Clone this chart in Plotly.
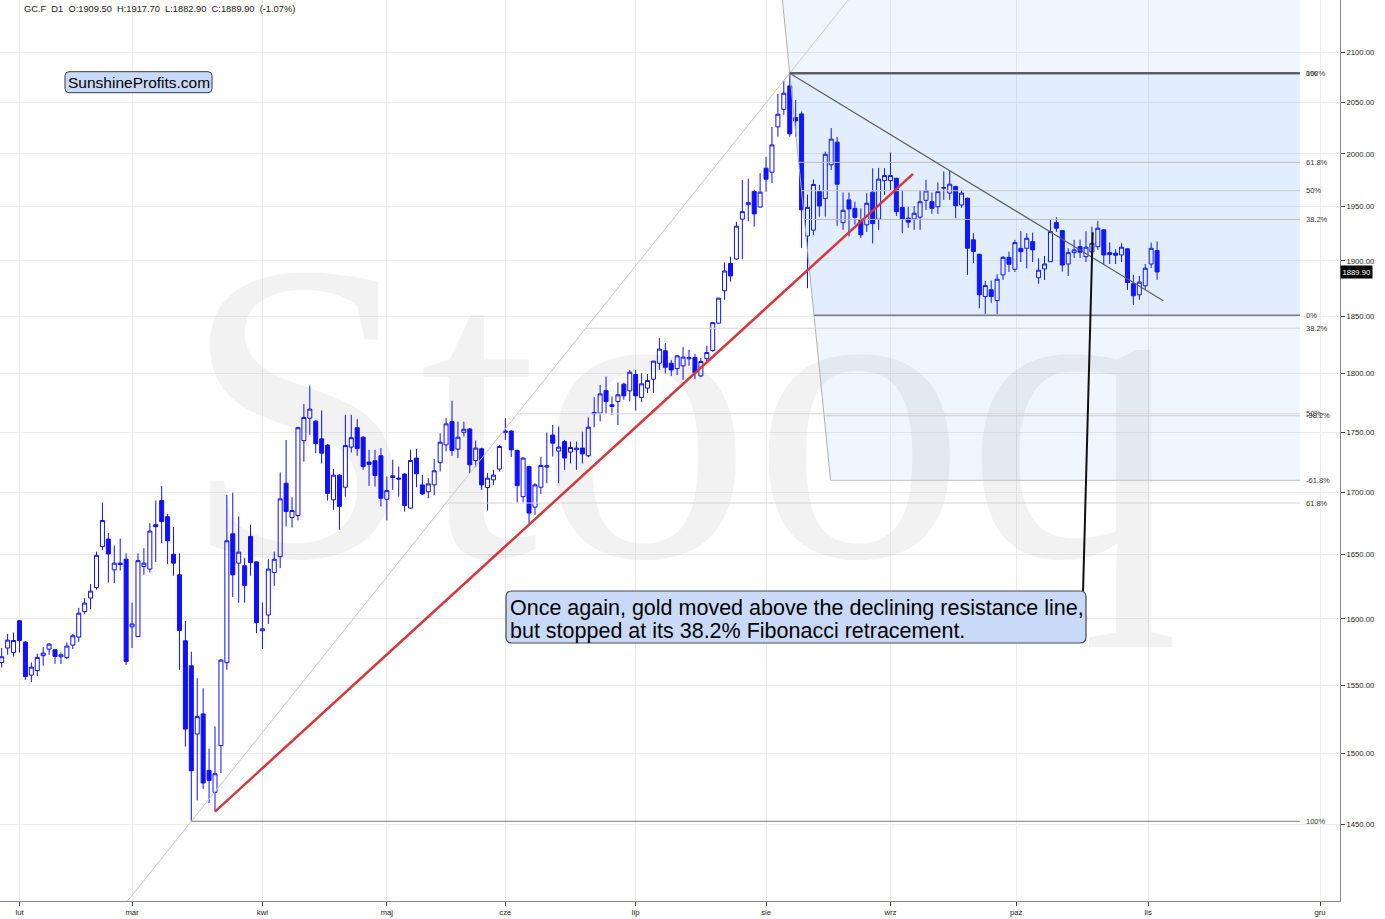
import numpy as np
import plotly.graph_objects as go

# ---------------- data (GC.F daily, 2020) ----------------
opens = [1566.9,1577.8,1574.4,1598.6,1582.3,1557.4,1560.8,1572.0,1577.0,1576.5,
         1571.2,1570.7,1580.0,1586.1,1605.6,1616.1,1624.3,1656.5,1662.5,1638.1,
         1643.4,1646.5,1593.9,1586.5,1640.7,1638.7,1674.0,1693.5,1680.4,1650.4,
         1634.2,1583.3,1564.4,1514.0,1528.7,1487.8,1472.2,1505.6,1566.7,1666.7,
         1643.4,1641.3,1664.6,1644.4,1590.9,1603.0,1636.0,1648.5,1707.7,1679.8,
         1681.4,1743.0,1761.8,1759.3,1744.4,1739.2,1694.1,1714.3,1704.4,1737.5,
         1753.8,1745.8,1725.1,1726.2,1730.3,1694.6,1712.4,1711.9,1715.2,1687.4,
         1728.4,1706.3,1700.7,1706.3,1724.6,1739.4,1758.9,1735.8,1749.9,1752.7,
         1726.4,1736.1,1704.1,1710.4,1719.3,1749.9,1751.0,1734.7,1696.7,1721.4,
         1688.2,1704.4,1720.9,1747.6,1734.2,1742.1,1733.4,1735.3,1736.7,1730.3,
         1765.5,1766.1,1785.3,1773.2,1776.0,1790.8,1785.1,1799.1,1779.4,1787.4,
         1795.1,1808.9,1819.7,1808.9,1804.2,1806.6,1812.7,1813.9,1797.9,1812.9,
         1820.0,1844.0,1872.9,1897.7,1901.7,1938.4,1951.9,1964.2,1949.7,1986.4,
         1982.6,2026.2,2043.4,2066.4,2035.2,2038.8,1922.8,1928.2,1964.2,1957.6,
         1989.6,2011.4,1935.2,1956.4,1948.5,1938.0,1933.1,1963.7,1938.4,1974.6,
         1974.6,1976.9,1949.4,1939.3,1938.6,1940.2,1956.0,1954.7,1950.0,1967.5,
         1962.8,1969.0,1951.6,1958.0,1919.3,1906.0,1867.7,1873.8,1864.1,1887.2,
         1903.2,1892.3,1911.5,1911.5,1917.6,1884.7,1892.6,1899.2,1935.2,1927.8,
         1897.1,1907.5,1913.0,1903.8,1908.2,1913.0,1928.5,1907.5,1907.0,1905.4,
         1911.0,1879.2,1869.3,1877.4,1897.1,1909.5]
highs = [1577.8,1588.6,1589.6,1599.2,1583.0,1566.9,1573.5,1578.5,1581.6,1576.8,
         1574.4,1582.0,1588.6,1608.5,1616.1,1627.0,1652.5,1691.9,1667.3,1657.3,
         1662.9,1651.2,1612.6,1651.2,1655.2,1675.3,1693.5,1705.5,1682.6,1672.1,
         1651.2,1598.4,1575.0,1555.1,1547.6,1503.4,1519.5,1569.5,1698.1,1699.9,
         1680.6,1647.7,1674.0,1645.0,1612.6,1646.5,1652.5,1716.5,1743.5,1696.2,
         1754.5,1773.8,1789.6,1760.0,1768.3,1740.0,1719.3,1715.0,1764.7,1764.7,
         1761.0,1746.5,1735.3,1735.3,1736.7,1713.2,1727.0,1721.4,1716.0,1735.3,
         1736.1,1714.6,1711.8,1727.6,1749.1,1761.9,1776.6,1758.9,1758.9,1753.5,
         1743.0,1737.0,1716.0,1718.7,1739.4,1761.9,1751.5,1735.5,1729.2,1722.0,
         1707.7,1729.2,1749.6,1756.2,1754.7,1743.5,1742.1,1742.1,1750.4,1762.4,
         1779.7,1790.2,1797.3,1780.2,1792.2,1792.2,1803.1,1803.1,1800.2,1799.6,
         1811.0,1830.8,1826.4,1811.8,1816.2,1823.2,1820.6,1817.1,1813.3,1824.1,
         1845.1,1866.6,1898.6,1903.8,1935.9,1975.3,1976.3,1965.8,1981.7,1997.4,
         2026.0,2058.5,2071.7,2079.1,2052.5,2041.1,1961.4,1975.6,1970.6,2002.2,
         2025.0,2016.5,1963.3,1963.3,1954.7,1948.5,1962.7,1986.4,1986.7,1986.4,
         2001.3,1977.2,1965.8,1950.0,1950.6,1965.8,1975.3,1963.3,1972.8,1983.3,
         1983.9,1969.6,1964.9,1958.5,1925.4,1906.3,1881.8,1882.1,1887.8,1904.4,
         1908.4,1919.2,1927.2,1925.4,1925.9,1902.3,1904.4,1938.4,1940.2,1928.3,
         1911.5,1919.3,1919.3,1927.2,1931.5,1936.8,1929.0,1916.8,1910.6,1916.1,
         1911.5,1887.2,1886.3,1897.1,1916.7,1917.7]
lows = [1563.1,1572.7,1571.4,1574.4,1553.8,1552.3,1556.8,1564.4,1572.7,1565.9,
        1565.7,1569.5,1577.0,1582.5,1603.6,1607.5,1622.5,1653.9,1628.2,1627.8,
        1637.6,1565.1,1577.8,1586.0,1634.2,1636.0,1644.4,1659.2,1642.6,1633.5,
        1561.4,1504.9,1451.9,1466.5,1474.6,1464.7,1458.7,1485.9,1561.4,1616.8,
        1612.4,1612.6,1633.5,1589.1,1577.0,1596.1,1625.6,1639.5,1672.6,1671.8,
        1677.4,1725.4,1747.7,1732.5,1723.9,1693.5,1686.0,1669.9,1696.7,1733.0,
        1730.3,1718.7,1705.5,1704.9,1688.7,1677.4,1702.2,1696.7,1684.6,1687.0,
        1704.4,1698.1,1695.4,1698.1,1717.3,1733.9,1730.3,1728.4,1746.3,1716.0,
        1720.9,1702.2,1685.4,1706.3,1717.3,1743.5,1729.2,1691.9,1691.9,1675.3,
        1682.0,1698.9,1707.7,1729.7,1707.7,1718.7,1723.9,1718.7,1723.9,1729.2,
        1754.2,1759.0,1765.5,1764.7,1756.1,1777.4,1776.0,1768.3,1775.6,1783.1,
        1783.4,1803.1,1800.2,1797.9,1798.7,1794.5,1806.6,1795.1,1796.8,1810.4,
        1818.8,1843.6,1864.8,1881.2,1901.0,1901.4,1936.5,1931.5,1949.5,1964.2,
        1972.2,2016.8,2037.9,2016.8,2016.8,1911.8,1875.3,1923.8,1940.8,1940.8,
        1984.8,1932.2,1928.5,1922.3,1933.4,1920.8,1926.6,1916.0,1928.5,1961.1,
        1965.8,1941.4,1925.4,1930.3,1928.5,1928.5,1947.0,1943.3,1943.3,1956.4,
        1956.4,1939.3,1949.0,1887.2,1898.0,1857.3,1852.2,1862.1,1852.2,1882.7,
        1889.9,1889.9,1898.9,1893.2,1898.9,1879.2,1882.7,1899.0,1926.6,1890.2,
        1886.3,1902.6,1902.6,1898.9,1902.6,1910.0,1897.1,1897.1,1897.1,1898.9,
        1873.7,1860.3,1864.8,1873.7,1893.5,1882.9]
closes = [1571.2,1583.8,1583.5,1583.5,1556.3,1563.4,1570.7,1574.0,1580.8,1571.4,
          1572.7,1579.3,1587.1,1604.4,1612.2,1621.5,1649.6,1677.4,1650.6,1643.4,
          1642.3,1567.6,1596.1,1645.4,1643.4,1668.9,1672.4,1676.6,1661.1,1643.4,
          1591.1,1517.6,1487.5,1526.7,1478.8,1480.7,1485.4,1568.7,1661.1,1634.2,
          1652.1,1625.9,1643.8,1597.1,1592.4,1638.7,1646.5,1694.9,1684.6,1685.4,
          1753.8,1762.4,1769.5,1740.5,1732.5,1699.4,1714.3,1688.7,1738.8,1745.4,
          1736.3,1721.4,1723.1,1714.0,1695.4,1701.6,1713.8,1711.1,1689.5,1726.4,
          1715.4,1698.9,1707.1,1717.9,1741.6,1757.0,1734.7,1745.8,1752.5,1722.8,
          1736.7,1706.3,1711.8,1714.3,1738.0,1751.0,1735.3,1705.7,1728.4,1683.4,
          1706.3,1722.3,1722.0,1740.8,1737.5,1728.4,1737.2,1736.7,1731.9,1754.2,
          1766.6,1782.5,1776.0,1771.8,1781.7,1780.8,1801.1,1780.8,1791.1,1793.9,
          1810.7,1821.2,1805.4,1803.1,1815.3,1814.2,1813.9,1800.7,1810.4,1818.2,
          1844.5,1866.3,1890.8,1886.3,1931.9,1945.4,1953.8,1943.3,1963.7,1976.0,
          2008.7,2038.5,2059.2,2019.4,2032.0,1947.1,1949.4,1970.9,1950.7,1999.7,
          2014.3,1971.2,1946.7,1947.9,1940.2,1923.9,1953.2,1934.3,1976.0,1979.4,
          1979.4,1945.4,1938.6,1935.6,1943.9,1954.7,1964.9,1948.5,1964.2,1968.0,
          1971.2,1950.9,1962.8,1911.5,1908.5,1869.3,1877.6,1867.7,1883.3,1903.2,
          1896.9,1916.7,1908.4,1920.7,1910.0,1891.5,1897.1,1926.9,1930.0,1896.2,
          1907.5,1910.0,1907.9,1912.5,1916.1,1930.0,1905.4,1905.7,1905.1,1912.5,
          1880.3,1868.4,1880.7,1893.3,1911.5,1889.9]
change_pct = -1.07

month_labels = ["lut", "mar", "kwi", "maj", "cze", "lip", "sie", "wrz", "paź", "lis", "gru"]
month_pos = [3, 22, 44, 65, 85, 107, 129, 150, 171.2, 193.5, 222.5]
price_ticks = [1450, 1500, 1550, 1600, 1650, 1700, 1750, 1800, 1850, 1900, 1950, 2000, 2050, 2100]

# drawing tools (bar index, price)
fib1_hi = (133, 2079.1)       # retracement drawn from the August top ...
fib1_lo = (137.1, 1851.0)     # ... to the September low
fib1_levels = [1.0, 0.618, 0.5, 0.382, 0.0, -0.382, -0.618]
fib1_text = ["100%", "61.8%", "50%", "38.2%", "0%", "-38.2%", "-61.8%"]
fib2_lo = (32, 1451.9)        # retracement drawn from the March low ...
fib2_hi = (133, 2079.1)       # ... to the August top
fib2_levels = [0.0, 0.382, 0.5, 0.618, 1.0]
fib2_text = ["0%", "38.2%", "50%", "61.8%", "100%"]
fib_right = 219.1
red_line = [(36, 1458.7), (153.8, 1981.0)]
resist_line = [(133, 2079.1), (196.05, 1864.0)]
pointer = [(184.13, 1926.2), (182.5, 1621.1)]
label_x = 220.0

# ---------------- geometry helpers ----------------
PLOT_W, PLOT_H = 1340, 901
X_RANGE = [-0.287, 225.87]
Y_RANGE = [np.log10(1397.4), np.log10(2153.4)]


def px(v):
    return v / PLOT_W


def py(v):
    return 1 - v / PLOT_H


def log_line_x(p, a, b):
    """x on the straight (log-space) line through a and b at price p"""
    return a[0] + (np.log(p) - np.log(a[1])) / (np.log(b[1]) - np.log(a[1])) * (b[0] - a[0])


def rounded_rect(x0, y0, x1, y1, r):
    rx, ry = r / PLOT_W, r / PLOT_H
    X0, X1 = px(x0), px(x1)
    Yt, Yb = py(y0), py(y1)
    return (f"M {X0+rx},{Yt} L {X1-rx},{Yt} Q {X1},{Yt} {X1},{Yt-ry} "
            f"L {X1},{Yb+ry} Q {X1},{Yb} {X1-rx},{Yb} L {X0+rx},{Yb} "
            f"Q {X0},{Yb} {X0},{Yb+ry} L {X0},{Yt-ry} Q {X0},{Yt} {X0+rx},{Yt} Z")


idx = np.arange(len(opens))
fig = go.Figure()

# ---------------- fib shading ----------------
f1 = {r: fib1_lo[1] + r * (fib1_hi[1] - fib1_lo[1]) for r in fib1_levels}
bands = [(2300.0, f1[1.0], "rgba(0,100,240,0.06)"),
         (f1[1.0], f1[0.0], "rgba(0,100,240,0.115)"),
         (f1[0.0], f1[-0.618], "rgba(0,100,240,0.06)")]
for ptop, pbot, col in bands:
    xs = [log_line_x(ptop, fib1_hi, fib1_lo), fib_right, fib_right, log_line_x(pbot, fib1_hi, fib1_lo)]
    fig.add_trace(go.Scatter(x=xs, y=[ptop, ptop, pbot, pbot], fill="toself", fillcolor=col,
                             mode="none", hoverinfo="skip", showlegend=False))

# ---------------- watermark ----------------
fig.add_trace(go.Scatter(x=[114.6], y=[1736.0], mode="text", text=["Stooq"],
                         textposition="middle center",
                         textfont=dict(family="Liberation Serif, DejaVu Serif, serif", size=428,
                                       color="rgba(0,0,0,0.05)"),
                         hoverinfo="skip", showlegend=False))

# ---------------- diagonals of the two fib tools ----------------
d2 = [15, 160]
fig.add_trace(go.Scatter(x=d2, y=[np.exp(np.log(fib2_lo[1]) + (xx - fib2_lo[0]) / (fib2_hi[0] - fib2_lo[0]) *
                                         (np.log(fib2_hi[1]) - np.log(fib2_lo[1]))) for xx in d2],
                         mode="lines", line=dict(color="#c8c8c8", width=1), hoverinfo="skip", showlegend=False))
d1p = [2300.0, f1[-0.618]]
fig.add_trace(go.Scatter(x=[log_line_x(p, fib1_hi, fib1_lo) for p in d1p], y=d1p,
                         mode="lines", line=dict(color="#b0b0b0", width=1), hoverinfo="skip", showlegend=False))

# fib1 level lines
style1 = {1.0: ("#5a5a5a", 2), 0.618: ("#bdbdbd", 1), 0.5: ("#cacaca", 1), 0.382: ("#bdbdbd", 1),
          0.0: ("#7a7a7a", 1.5), -0.382: ("#cfcfcf", 1), -0.618: ("#c4c4c4", 1)}
for r in fib1_levels:
    p = f1[r]
    col, w = style1[r]
    fig.add_trace(go.Scatter(x=[log_line_x(p, fib1_hi, fib1_lo), fib_right], y=[p, p], mode="lines",
                             line=dict(color=col, width=w), hoverinfo="skip", showlegend=False))
# fib2 level lines
f2 = {r: fib2_hi[1] - r * (fib2_hi[1] - fib2_lo[1]) for r in fib2_levels}
style2 = {0.0: ("#5a5a5a", 2), 0.382: ("#d6d6d6", 1), 0.5: ("#d6d6d6", 1), 0.618: ("#d6d6d6", 1),
          1.0: ("#7a7a7a", 1)}
for r in fib2_levels:
    p = f2[r]
    col, w = style2[r]
    fig.add_trace(go.Scatter(x=[log_line_x(p, fib2_lo, fib2_hi), fib_right], y=[p, p], mode="lines",
                             line=dict(color=col, width=w), hoverinfo="skip", showlegend=False))

# ---------------- candles ----------------
fig.add_trace(go.Candlestick(
    x=idx, open=opens, high=highs, low=lows, close=closes,
    increasing=dict(line=dict(color="#1010ff", width=1), fillcolor="rgba(0,0,0,0)"),
    decreasing=dict(line=dict(color="#1010ff", width=1), fillcolor="#1010ff"),
    whiskerwidth=0, hoverinfo="skip", showlegend=False))

# ---------------- trend lines ----------------
fig.add_trace(go.Scatter(x=[p[0] for p in red_line], y=[p[1] for p in red_line], mode="lines",
                         line=dict(color="#d8373a", width=2.5), hoverinfo="skip", showlegend=False))
fig.add_trace(go.Scatter(x=[p[0] for p in resist_line], y=[p[1] for p in resist_line], mode="lines",
                         line=dict(color="#5f5f5f", width=1.2), hoverinfo="skip", showlegend=False))
fig.add_trace(go.Scatter(x=[p[0] for p in pointer], y=[p[1] for p in pointer], mode="lines",
                         line=dict(color="#111111", width=2), hoverinfo="skip", showlegend=False))

# ---------------- annotations ----------------
ann = []
small = dict(family="Liberation Sans, Arial, sans-serif", size=7.5, color="#333333")
for r, t in zip(fib1_levels, fib1_text):
    ann.append(dict(x=label_x, y=np.log10(f1[r]), xref="x", yref="y", text=t, showarrow=False,
                    xanchor="left", yanchor="middle", font=small, borderpad=0))
for r, t in zip(fib2_levels, fib2_text):
    ann.append(dict(x=label_x, y=np.log10(f2[r]), xref="x", yref="y", text=t, showarrow=False,
                    xanchor="left", yanchor="middle", font=small, borderpad=0))

o, h, l, c = opens[-1], highs[-1], lows[-1], closes[-1]
sp = "\u00a0\u00a0"
header = (f"GC.F{sp}D1{sp}O:{o:.2f}{sp}H:{h:.2f}{sp}L:{l:.2f}{sp}C:{c:.2f}{sp}({change_pct:.2f}%)")
ann.append(dict(x=px(22), y=py(9.3), xref="paper", yref="paper", text=header, showarrow=False,
                xanchor="left", yanchor="middle",
                font=dict(family="Liberation Sans, Arial, sans-serif", size=9.3, color="#222")))

ann.append(dict(x=1.0, y=np.log10(c), xref="paper", yref="y", text=f"{c:.2f}", showarrow=False,
                xanchor="left", yanchor="middle", bgcolor="#000000", borderpad=1.5,
                font=dict(family="Liberation Sans, Arial, sans-serif", size=7.7, color="#ffffff")))

ann.append(dict(x=px(138.5), y=py(82.5), xref="paper", yref="paper", text="SunshineProfits.com",
                showarrow=False, xanchor="center", yanchor="middle",
                font=dict(family="Liberation Sans, Arial, sans-serif", size=15.5, color="#000")))

big = dict(family="Liberation Sans, Arial, sans-serif", size=21.5, color="#000")
ann.append(dict(x=px(508), y=py(608), xref="paper", yref="paper",
                text="Once again, gold moved above the declining resistance line,",
                showarrow=False, xanchor="left", yanchor="middle", font=big))
ann.append(dict(x=px(508), y=py(631), xref="paper", yref="paper",
                text="but stopped at its 38.2% Fibonacci retracement.",
                showarrow=False, xanchor="left", yanchor="middle", font=big))

shapes = [
    dict(type="path", xref="paper", yref="paper", path=rounded_rect(65, 71.7, 212, 92.7, 4),
         fillcolor="#c9daf8", line=dict(color="#3a3a3a", width=1), layer="above"),
    dict(type="path", xref="paper", yref="paper", path=rounded_rect(506, 591, 1086, 643, 6),
         fillcolor="#c9daf8", line=dict(color="#4a4a4a", width=1.2), layer="above"),
]

axis_font = dict(family="Liberation Sans, Arial, sans-serif", size=7.7, color="#222")
fig.update_layout(
    width=1385, height=919, autosize=False,
    margin=dict(l=0, r=1385 - PLOT_W, t=0, b=919 - PLOT_H, pad=0),
    paper_bgcolor="white", plot_bgcolor="white",
    showlegend=False, hovermode=False,
    boxgap=0.25, boxgroupgap=0.1,
    annotations=ann, shapes=shapes,
    xaxis=dict(range=X_RANGE, tickvals=month_pos, ticktext=month_labels, showgrid=True,
               gridcolor="#ececec", gridwidth=1, zeroline=False, showline=True, linecolor="#888",
               linewidth=1, ticks="outside", ticklen=4, tickcolor="#444", tickfont=axis_font,
               rangeslider=dict(visible=False), fixedrange=True),
    yaxis=dict(type="log", range=Y_RANGE, side="right", tickvals=price_ticks,
               ticktext=[f"{v:.2f}" for v in price_ticks], showgrid=True, gridcolor="#ececec",
               gridwidth=1, zeroline=False, showline=True, linecolor="#888", linewidth=1,
               ticks="outside", ticklen=4, tickcolor="#444", tickfont=axis_font, fixedrange=True),
)

fig.write_html("out.html", config={"displayModeBar": False},
               post_script="document.body.style.margin='0px';document.body.style.overflow='hidden';")
